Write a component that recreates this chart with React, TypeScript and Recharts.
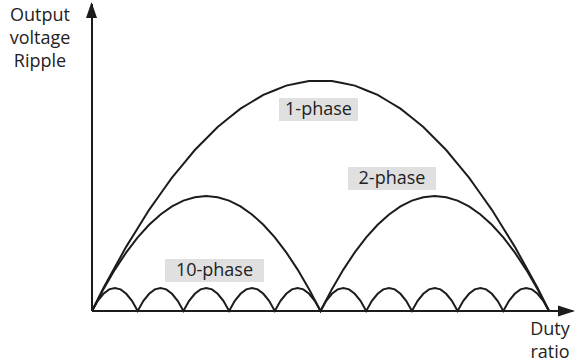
import { LineChart, Line, XAxis, YAxis, ReferenceLine } from 'recharts';

// duty ratio sample positions
const dutyCoarse = Array.from({ length: 41 }, (_, i) => i / 40);
const dutyFine = Array.from({ length: 81 }, (_, i) => i / 80);

// ripple (1-phase peak = 100)
const onePhase = [
  0, 10, 19, 28, 36, 44, 51, 58, 64, 70, 75, 80, 84, 88, 91, 94, 96, 98, 99, 100,
  100, 100, 99, 98, 96, 94, 91, 88, 84, 80, 75, 70, 64, 58, 51, 44, 36, 28, 19, 10, 0,
];
const twoPhase = [
  0, 9.5, 18, 25.5, 32, 37.5, 42, 45.5, 48, 49.5, 50, 49.5, 48, 45.5, 42, 37.5, 32, 25.5, 18, 9.5,
  0, 9.5, 18, 25.5, 32, 37.5, 42, 45.5, 48, 49.5, 50, 49.5, 48, 45.5, 42, 37.5, 32, 25.5, 18, 9.5, 0,
];
const tenPhase = [
  0, 4.4, 7.5, 9.4, 10, 9.4, 7.5, 4.4,
  0, 4.4, 7.5, 9.4, 10, 9.4, 7.5, 4.4,
  0, 4.4, 7.5, 9.4, 10, 9.4, 7.5, 4.4,
  0, 4.4, 7.5, 9.4, 10, 9.4, 7.5, 4.4,
  0, 4.4, 7.5, 9.4, 10, 9.4, 7.5, 4.4,
  0, 4.4, 7.5, 9.4, 10, 9.4, 7.5, 4.4,
  0, 4.4, 7.5, 9.4, 10, 9.4, 7.5, 4.4,
  0, 4.4, 7.5, 9.4, 10, 9.4, 7.5, 4.4,
  0, 4.4, 7.5, 9.4, 10, 9.4, 7.5, 4.4,
  0, 4.4, 7.5, 9.4, 10, 9.4, 7.5, 4.4,
  0,
];

const yLabel = ['Output', 'voltage', 'Ripple'];
const xLabel = ['Duty', 'ratio'];

const oneData = dutyCoarse.map((d, i) => ({ d, v: onePhase[i] }));
const twoData = dutyCoarse.map((d, i) => ({ d, v: twoPhase[i] }));
const tenData = dutyFine.map((d, i) => ({ d, v: tenPhase[i] }));

const INK = '#1c1c1c';
const FONT = '"Open Sans", "Noto Sans", sans-serif';

const App = () => {
  return (
    <div style={{ position: 'absolute', top: 0, left: 0, width: 576, height: 362, background: '#fff' }}>
      <LineChart width={576} height={362} margin={{ top: 4, right: 3, bottom: 51, left: 92 }}>
        <XAxis type="number" dataKey="d" domain={[0, 1.0525]} hide allowDuplicatedCategory={false} />
        <YAxis type="number" domain={[0, 133.5]} hide />
        <ReferenceLine x={0} stroke={INK} strokeWidth={2} />
        <ReferenceLine y={0} stroke={INK} strokeWidth={2} />
        <Line data={oneData} dataKey="v" type="linear" stroke={INK} strokeWidth={2} dot={false} isAnimationActive={false} />
        <Line data={twoData} dataKey="v" type="linear" stroke={INK} strokeWidth={2} dot={false} isAnimationActive={false} />
        <Line data={tenData} dataKey="v" type="linear" stroke={INK} strokeWidth={2} dot={false} isAnimationActive={false} />
      </LineChart>
      <svg
        width={576}
        height={362}
        style={{ position: 'absolute', top: 0, left: 0, pointerEvents: 'none' }}
        fontFamily={FONT}
        fontSize={18}
        fill="#222"
      >
        <polygon points="91.5,2 86,18 97,18" fill={INK} />
        <polygon points="575,311 558,305.5 558,316.5" fill={INK} />
        {yLabel.map((t, i) => (
          <text key={t} x={40} y={21 + i * 23} textAnchor="middle">{t}</text>
        ))}
        {xLabel.map((t, i) => (
          <text key={t} x={550} y={335 + i * 23} textAnchor="middle">{t}</text>
        ))}
        <rect x={279} y={98} width={79} height={23} fill="#e0e0e0" />
        <text x={318.5} y={115} textAnchor="middle">1-phase</text>
        <rect x={348} y={167} width={88} height={23} fill="#e0e0e0" />
        <text x={392} y={184} textAnchor="middle">2-phase</text>
        <rect x={165} y={259} width={99} height={23} fill="#e0e0e0" />
        <text x={214.5} y={276} textAnchor="middle">10-phase</text>
      </svg>
    </div>
  );
};

export default App;
